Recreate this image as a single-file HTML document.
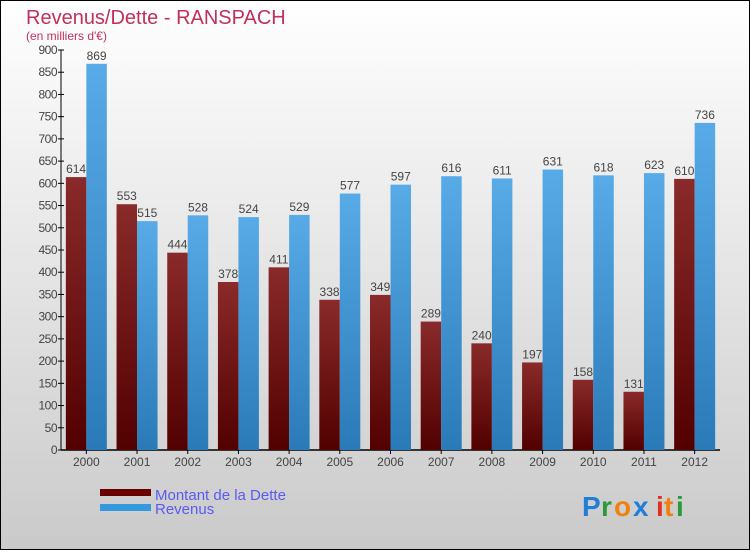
<!DOCTYPE html>
<html><head><meta charset="utf-8"><style>
body{margin:0;width:750px;height:550px;overflow:hidden;font-family:"Liberation Sans",sans-serif}
svg text{font-family:"Liberation Sans",sans-serif}
</style></head><body>
<svg width="750" height="550" xmlns="http://www.w3.org/2000/svg">
<defs>
<linearGradient id="bg" x1="0" y1="0" x2="0" y2="1"><stop offset="0" stop-color="#ffffff"/><stop offset="1" stop-color="#cacaca"/></linearGradient>
<linearGradient id="gd" x1="0" y1="0" x2="0" y2="1"><stop offset="0" stop-color="#8a2a2a"/><stop offset="1" stop-color="#520000"/></linearGradient>
<linearGradient id="gr" x1="0" y1="0" x2="0" y2="1"><stop offset="0" stop-color="#58abe6"/><stop offset="1" stop-color="#2a7ab8"/></linearGradient>
</defs>
<rect x="0.5" y="0.5" width="749" height="549" fill="url(#bg)" stroke="#000"/>
<text x="26" y="24" font-size="20" fill="#c0305a">Revenus/Dette - RANSPACH</text>
<text x="26" y="40" font-size="12" fill="#c0305a">(en milliers d'€)</text>
<g id="plot"></g>
<rect x="100" y="489" width="51" height="7" fill="#6a0000"/>
<rect x="100" y="504" width="51" height="7" fill="#3498e0"/>
<text x="155" y="500" font-size="15" fill="#5a5af0">Montant de la Dette</text>
<text x="155" y="514" font-size="15" fill="#5a5af0">Revenus</text>
<g font-size="28" font-weight="bold">
<text x="582" y="516" fill="#1f7fd6">P</text><text x="601" y="516" fill="#2a9a3a">r</text><text x="614" y="516" fill="#f08010">o</text><text x="633" y="516" fill="#1f7fd6">x</text><text x="656" y="516" fill="#e03020">i</text><text x="664" y="516" fill="#f08010">t</text><text x="676" y="516" fill="#2a9a3a">i</text>
</g>
</svg>
<script>
const years=["2000","2001","2002","2003","2004","2005","2006","2007","2008","2009","2010","2011","2012"];
const dette=[614,553,444,378,411,338,349,289,240,197,158,131,610];
const revenus=[869,515,528,524,529,577,597,616,611,631,618,623,736];
const yTicks=[0,50,100,150,200,250,300,350,400,450,500,550,600,650,700,750,800,850,900];
const NS="http://www.w3.org/2000/svg";
const g=document.getElementById('plot');
const x0=61,x1=720,yb=450,yt=50,ymax=900;
const step=(x1-x0)/years.length;
const Y=v=>yb-(v/ymax)*(yb-yt);
const Xc=i=>x0+step*(i+0.5);
function el(t,a,txt){const e=document.createElementNS(NS,t);for(const k in a)e.setAttribute(k,a[k]);if(txt!==undefined)e.textContent=txt;g.appendChild(e);return e;}
let e;
e=el('line',{x1:x0,y1:yt,x2:x0,y2:yb,stroke:'#000'});


e=el('line',{x1:x0,y1:yb,x2:x1,y2:yb,stroke:'#000','stroke-width':1.5});


yTicks.forEach(v=>{
 el('line',{x1:x0-3,y1:Y(v),x2:x0+3,y2:Y(v),stroke:'#000'});
 e=el('text',{x:x0-4,y:Y(v)+4,'font-size':12,'text-anchor':'end',fill:'#444','letter-spacing':'-0.5'},v);
 
 
});
const bw=20.5;
years.forEach((yr,i)=>{
 const c=Xc(i);
 el('line',{x1:c,y1:yb,x2:c,y2:yb+4,stroke:'#000'});
 e=el('text',{x:c,y:yb+16,'font-size':12,'text-anchor':'middle',fill:'#444'},yr);
 
 
 e=el('rect',{x:c-bw,y:Y(dette[i]),width:bw,height:yb-Y(dette[i]),fill:'url(#gd)'});
 
 
 e=el('rect',{x:c,y:Y(revenus[i]),width:bw,height:yb-Y(revenus[i]),fill:'url(#gr)'});
 
 
 e=el('text',{x:c-bw/2,y:Y(dette[i])-4,'font-size':12,'text-anchor':'middle',fill:'#444'},dette[i]);
 
 
 e=el('text',{x:c+bw/2,y:Y(revenus[i])-4,'font-size':12,'text-anchor':'middle',fill:'#444'},revenus[i]);
 
 
});
</script>
</body></html>
